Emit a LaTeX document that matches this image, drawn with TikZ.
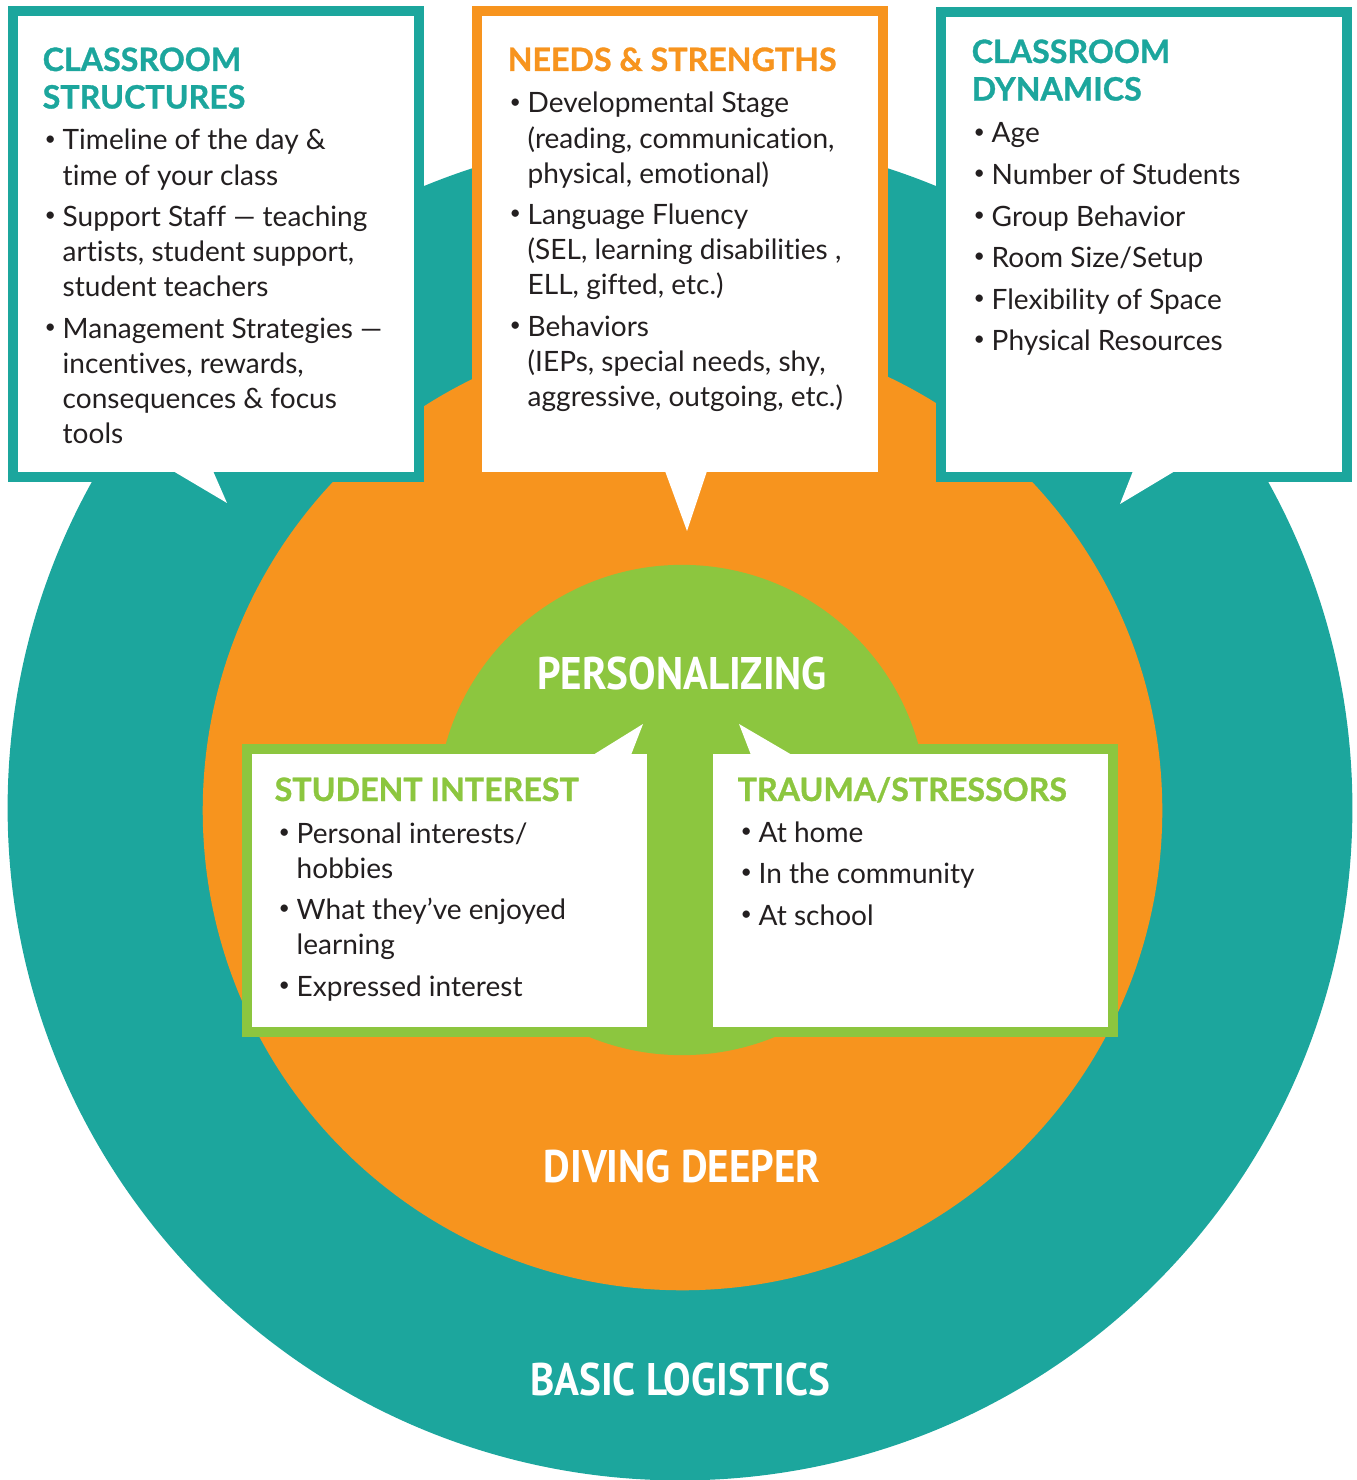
\documentclass[tikz,border=0pt]{standalone}
\usepackage{graphicx}
\usepackage{fontspec}
\setmainfont{Lato}[Ligatures={TeX,NoCommon}]
\newfontfamily\headfont[FakeBold=1]{Lato}
\newfontfamily\ringfont[FakeStretch=0.9]{PT Sans}
\definecolor{logteal}{HTML}{1CA69D}
\definecolor{deeporange}{HTML}{F7941E}
\definecolor{persgreen}{HTML}{8CC63F}
\definecolor{bodygray}{HTML}{231F20}
\newcommand{\hd}[1]{\begin{tabular}[t]{@{}l@{}}#1\end{tabular}}
\newcommand{\lst}[1]{\begin{tabular}[t]{@{}p{0.18cm}@{}l@{}}#1\end{tabular}}
\newcommand{\gap}{\\[0.065cm]}
\newcommand{\bul}{\raisebox{0.35ex}{\scalebox{0.7}{\textbullet}}}

\begin{document}
\begin{tikzpicture}[x=0.01cm,y=-0.01cm]
  \tikzset{
    head/.style={anchor=base west, inner sep=0, font=\headfont\bfseries\fontsize{9.15}{10.67}\selectfont},
    items/.style={anchor=base west, inner sep=0, text=bodygray, font=\fontsize{7.97}{9.96}\selectfont},
    ringlabel/.style={text=white, inner sep=0, font=\ringfont\bfseries\fontsize{13}{15}\selectfont}
  }
  \useasboundingbox (0,0) rectangle (1356,1480);
  % the three rings
  \fill[logteal] (680,808) circle (6.72cm);
  \fill[deeporange] (682.5,810.5) circle (4.795cm);
  \fill[persgreen] (682,810) circle (2.45cm);

  % top boxes
  \fill[logteal] (8,6) rectangle (424,482);
  \fill[white] (18,16) rectangle (414,472);
  \fill[white] (173,471) -- (227,503) -- (213,471) -- cycle;

  \fill[deeporange] (472,6) rectangle (888,482);
  \fill[white] (482,16) rectangle (878,472);
  \fill[white] (665,471) -- (687,531) -- (707,471) -- cycle;

  \fill[logteal] (936,7) rectangle (1352,482);
  \fill[white] (946,17) rectangle (1342,472);
  \fill[white] (1133,471) -- (1120,504) -- (1175,471) -- cycle;

  % bottom boxes
  \fill[persgreen] (242,744) rectangle (657,1037);
  \fill[white] (252,754) rectangle (647,1027);
  \fill[white] (593,755) -- (643,724) -- (631,755) -- cycle;

  \fill[persgreen] (703,744) rectangle (1118,1037);
  \fill[white] (713,754) rectangle (1108,1027);
  \fill[white] (751,755) -- (739,724) -- (792,755) -- cycle;

  % texts
  \node[head, text=logteal] (structhead) at (42,71) {\hd{CLASSROOM\\STRUCTURES}};
  \node[items] (structlist) at (44,150) {\lst{
    \bul & Timeline of the day \&\\ & time of your class\gap
    \bul & Support Staff --- teaching\\ & artists, student support,\\ & student teachers\gap
    \bul & Management Strategies ---\\ & incentives, rewards,\\ & consequences \& focus\\ & tools}};

  \node[head, text=deeporange] (needshead) at (507,71) {\hd{NEEDS \& STRENGTHS}};
  \node[items] (needslist) at (509,113) {\lst{
    \bul & Developmental Stage\\ & (reading, communication,\\ & physical, emotional)\gap
    \bul & Language Fluency\\ & (SEL, learning disabilities ,\\ & ELL, gifted, etc.)\gap
    \bul & Behaviors\\ & (IEPs, special needs, shy,\\ & aggressive, outgoing, etc.)}};

  \node[head, text=logteal] (dynhead) at (971,63) {\hd{CLASSROOM\\DYNAMICS}};
  \node[items] (dynlist) at (973,143) {\lst{
    \bul & Age\gap
    \bul & Number of Students\gap
    \bul & Group Behavior\gap
    \bul & Room Size/Setup\gap
    \bul & Flexibility of Space\gap
    \bul & Physical Resources}};

  \node[head, text=persgreen] (interesthead) at (274,801) {\hd{STUDENT INTEREST}};
  \node[items] (interestlist) at (278,843) {\lst{
    \bul & Personal interests/\\ & hobbies\gap
    \bul & What they’ve enjoyed\\ & learning\gap
    \bul & Expressed interest}};

  \node[head, text=persgreen] (traumahead) at (737,801) {\hd{TRAUMA/STRESSORS}};
  \node[items] (traumalist) at (740,842) {\lst{
    \bul & At home\gap
    \bul & In the community\gap
    \bul & At school}};

  \node[ringlabel] (personal) at (682,674) {PERSONALIZING};
  \node[ringlabel] (diving) at (682,1166) {DIVING DEEPER};
  \node[ringlabel] (basic) at (680,1379) {BASIC LOGISTICS};
\end{tikzpicture}
\end{document}
